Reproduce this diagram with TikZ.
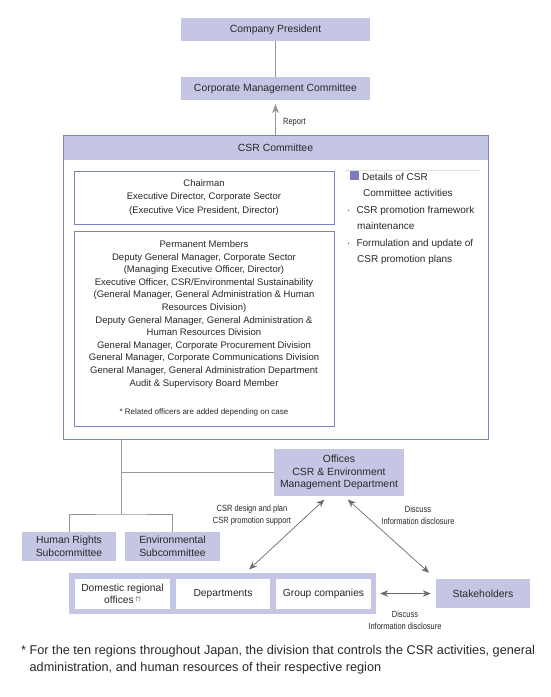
\documentclass[tikz,border=0pt]{standalone}
\usepackage{fontspec}
\setmainfont{Liberation Sans}
\newfontfamily\narrowfont[FakeStretch=0.83]{Liberation Sans}
\usetikzlibrary{arrows.meta,calc,positioning}
\definecolor{csrfill}{RGB}{197,198,227}
\definecolor{csrline}{RGB}{122,132,184}
\definecolor{csrgray}{RGB}{150,150,150}
\definecolor{csrarrow}{RGB}{108,108,108}
\definecolor{csrmark}{RGB}{124,124,190}
\definecolor{csrtext}{RGB}{40,40,40}

\begin{document}
\begin{tikzpicture}[x=1pt,y=-1pt,>=Stealth,text=csrtext,
  bluebox/.style={fill=csrfill,inner sep=0pt,align=center,font=\fontsize{10.4}{12.8}\selectfont},
  membox/.style={draw=csrline,line width=0.8pt,fill=white,inner sep=0pt,align=center,font=\fontsize{9.5}{12.6}\selectfont},
  unitbox/.style={fill=white,inner sep=0pt,align=center,font=\fontsize{10.3}{12}\selectfont},
  tree/.style={draw=csrgray,line width=0.7pt},
  twoway/.style={<->,draw=csrarrow,line width=0.7pt,>={Stealth[length=8pt,width=6.5pt]}},
  oneway/.style={->,draw=csrgray,line width=0.7pt,>={Stealth[length=9pt,width=7pt]}},
  small/.style={font=\narrowfont\fontsize{9}{12}\selectfont,align=center}]

\useasboundingbox (0,0) rectangle (550,697);

% top
\node[bluebox,minimum width=189,minimum height=23] (pres) at (275.5,29.5) {Company President};
\node[bluebox,minimum width=189,minimum height=23] (cmc) at (275.5,88.5) {Corporate Management Committee};
\draw[tree] (pres) -- (cmc);

% CSR committee
\node[bluebox,minimum width=425,minimum height=25] (head) at (275.5,147.5) {CSR Committee};
\node[draw=csrline,line width=0.8pt,minimum width=425,minimum height=304] (csr) at (275.5,287) {};
\draw[oneway,shorten >=4pt] (csr.north) -- (cmc.south) node[pos=0.36,right=4pt,small]{Report};

\node[membox,minimum width=260,minimum height=53,font=\fontsize{9.5}{13.5}\selectfont] (chair) at (204,197.5)
  {Chairman\\Executive Director, Corporate Sector\\(Executive Vice President, Director)};
\node[membox,minimum width=260,minimum height=195] (perm) at (204,328.5)
  {Permanent Members\\
   Deputy General Manager, Corporate Sector\\
   (Managing Executive Officer, Director)\\
   Executive Officer, CSR/Environmental Sustainability\\
   (General Manager, General Administration \& Human\\
   Resources Division)\\
   Deputy General Manager, General Administration \&\\
   Human Resources Division\\
   General Manager, Corporate Procurement Division\\
   General Manager, Corporate Communications Division\\
   General Manager, General Administration Department\\
   Audit \& Supervisory Board Member\\[16pt]
   {\fontsize{8}{9}\selectfont * Related officers are added depending on case}};

% details
\draw[black!12,line width=0.6pt] (345,170) -- (481,170);
\node[anchor=north west,inner sep=0pt,align=left,font=\fontsize{10}{16.5}\selectfont] (detail) at (347,171)
  {\hspace{3pt}\textcolor{csrmark}{\rule{9pt}{9pt}}\hspace{3pt}Details of CSR\\
   \hspace{16pt}Committee activities\\
   \textperiodcentered\hspace{6pt}CSR promotion framework\\
   \hspace{10pt}maintenance\\
   \textperiodcentered\hspace{6pt}Formulation and update of\\
   \hspace{10pt}CSR promotion plans};

% lower part
\node[bluebox,minimum width=130,minimum height=47] (office) at (339,472.5)
  {Offices\\CSR \& Environment\\Management Department};
\node[bluebox,minimum width=94,minimum height=29] (human) at (69,546.5) {Human Rights\\Subcommittee};
\node[bluebox,minimum width=95,minimum height=29] (envir) at (172.5,546.5) {Environmental\\Subcommittee};

\coordinate (j1) at (121,472.5);
\coordinate (j2) at (121,514);
\draw[tree] (csr.south -| j1) -- (j2);
\draw[tree] (j1) -- (office.west);
\draw[tree] (human.north) |- (j2) -| (envir.north);

\node[bluebox,minimum width=307,minimum height=41] (group) at (222.5,593.5) {};
\node[unitbox,minimum width=95,minimum height=30] (domestic) at (122.5,594)
  {Domestic regional\\offices\,\raisebox{3pt}{\fontsize{5}{6}\selectfont(*)}};
\node[unitbox,minimum width=94,minimum height=30] (dept) at (223,594) {Departments};
\node[unitbox,minimum width=95,minimum height=30] (gcomp) at (323.5,594) {Group companies};
\node[bluebox,minimum width=94,minimum height=29] (stake) at (483,593.5) {Stakeholders};

\draw[twoway,shorten <=5pt,shorten >=5pt] ($(office.south)+(-11,0)$) -- ($(group.north)+(23,0)$);
\draw[twoway,shorten <=5pt,shorten >=9pt] ($(office.south)+(5,0)$) -- (stake.north west);
\draw[twoway,shorten <=4pt,shorten >=5pt] (group.east) -- (stake.west);

\node[small] (lblplan) at (252,515) {CSR design and plan\\CSR promotion support};
\node[small] (lbldisc) at (418,515) {Discuss\\Information disclosure};
\node[small] (lblstake) at (405,620) {Discuss\\Information disclosure};

% footnote
\node[anchor=north west,inner sep=0pt,align=left,font=\fontsize{12.7}{17}\selectfont] (foot) at (21,645)
  {* For the ten regions throughout Japan, the division that controls the CSR activities, general\\
   \phantom{* }administration, and human resources of their respective region};
\end{tikzpicture}
\end{document}
